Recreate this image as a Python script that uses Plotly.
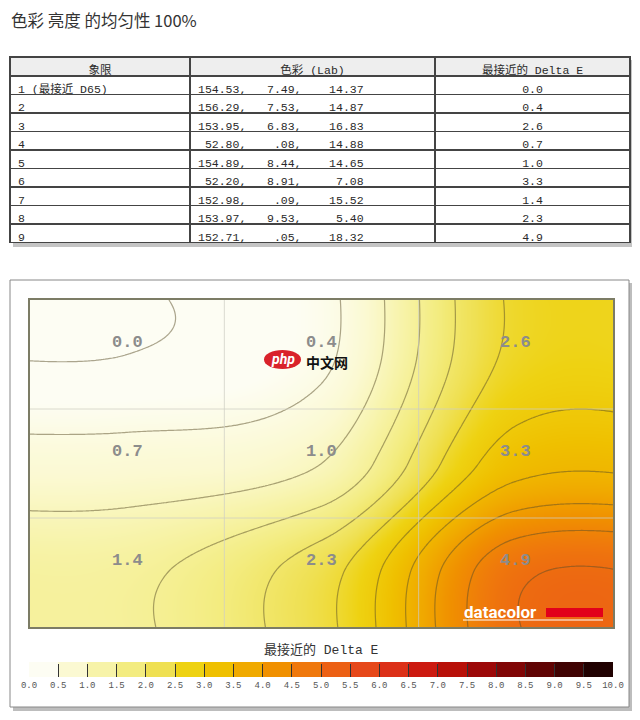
import numpy as np
import plotly.graph_objects as go

# ---------------- data ----------------
title_text = "色彩 亮度 的均匀性 100%"
table_header = ["象限", "色彩 (Lab)", "最接近的 Delta E"]
quadrant_labels = ["1 (最接近 D65)", "2", "3", "4", "5", "6", "7", "8", "9"]
lab_L = ["154.53", "156.29", "153.95", "52.80", "154.89", "52.20", "152.98", "153.97", "152.71"]
lab_a = ["7.49", "7.53", "6.83", ".08", "8.44", "8.91", ".09", "9.53", ".05"]
lab_b = ["14.37", "14.87", "16.83", "14.88", "14.65", "7.08", "15.52", "5.40", "18.32"]
delta_e_list = [0.0, 0.4, 2.6, 0.7, 1.0, 3.3, 1.4, 2.3, 4.9]

# 3x3 uniformity grid (rows top->bottom, columns left->right)
delta_e_grid = [
    [0.0, 0.4, 2.6],
    [0.7, 1.0, 3.3],
    [1.4, 2.3, 4.9],
]
colorbar_title = "最接近的 Delta E"
cbar_ticks = [round(0.5 * k, 1) for k in range(21)]
cbar_ticktext = [f"{t:.1f}" for t in cbar_ticks]
bin_colors = ["#fdfdf3", "#fbf9d2", "#f7f3a8", "#f3ec80", "#efe052", "#eed212", "#efc000",
              "#f0aa00", "#f09000", "#ef780c", "#ec6014", "#e6481a", "#dc3018", "#cc1a10",
              "#b81008", "#9c0808", "#800606", "#600404", "#400303", "#200101"]

# page body has an 8px margin: figure pixel = page pixel - 8
OFF = 8
W, H = 640 - OFF, 720 - OFF
def px_x(p):
    return (p - OFF) / W
def px_y(p):
    return 1 - (p - OFF) / H

# ---------------- smooth surface from the 3x3 grid (cardinal cubic spline) ----------------
Zg = np.array(delta_e_grid, float)
nrows, ncols = Zg.shape
TENSION_K = 0.75

def card_interp(vals, xq, k=TENSION_K):
    vals = np.asarray(vals, float)
    p = np.concatenate([[vals[0]] * 2, vals, [vals[-1]] * 2])
    m = np.zeros_like(p)
    m[1:-1] = k * (p[2:] - p[:-2]) / 2
    i = np.floor(xq).astype(int)
    i = np.clip(i, -1, len(vals) - 1)
    t = xq - i
    i0 = i + 2
    i1 = i0 + 1
    h00 = 2 * t ** 3 - 3 * t ** 2 + 1
    h10 = t ** 3 - 2 * t ** 2 + t
    h01 = -2 * t ** 3 + 3 * t ** 2
    h11 = t ** 3 - t ** 2
    return h00 * p[i0] + h10 * m[i0] + h01 * p[i1] + h11 * m[i1]

gx = np.linspace(-0.5, ncols - 0.5, 241)
gy = np.linspace(-0.5, nrows - 0.5, 161)
Zr = np.array([card_interp(Zg[j], gx) for j in range(nrows)])          # nrows x Nx
Zs = np.array([card_interp(Zr[:, c], gy) for c in range(len(gx))]).T   # Ny x Nx

# colorscales
n = len(bin_colors)
smooth_scale = [[0.0, bin_colors[0]]] + [[(k + 0.5) / n, c] for k, c in enumerate(bin_colors)] + [[1.0, bin_colors[-1]]]
step_scale = []
for k, c in enumerate(bin_colors):
    step_scale.append([k / n, c])
    step_scale.append([(k + 1) / n, c])

fig = go.Figure()

# table
NB = "\u00a0"
col2 = [(a + ",").rjust(7).replace(" ", NB) + (b + ",").rjust(8).replace(" ", NB)
        + c.rjust(9).replace(" ", NB) for a, b, c in zip(lab_L, lab_a, lab_b)]
col3 = [f"{d:.1f}" for d in delta_e_list]
tfont = dict(family="Liberation Mono, Noto Sans CJK SC", size=11.5, color="#2a2a2a")
fig.add_trace(go.Table(
    domain=dict(x=[px_x(10), px_x(630)], y=[px_y(243), px_y(57)]),
    columnwidth=[180, 245, 195],
    header=dict(values=table_header, height=19, fill_color="#eeeeee",
                line=dict(color="#444", width=1.5), align="center", font=tfont),
    cells=dict(values=[quadrant_labels, col2, col3], height=18.5, fill_color="white",
               line=dict(color="#444", width=1.5), align=["left", "left", "center"], font=tfont),
))

# contour surface
fig.add_trace(go.Contour(
    x=gx, y=gy, z=Zs, zmin=0, zmax=10, colorscale=smooth_scale, showscale=False,
    contours=dict(start=0, end=10, size=0.5, coloring="heatmap", showlabels=False),
    line=dict(color="rgba(90,78,40,0.5)", width=1.2, smoothing=1),
    hoverinfo="skip",
))

# colorbar carrier
fig.add_trace(go.Scatter(
    x=[0], y=[0], mode="markers", hoverinfo="skip", showlegend=False,
    marker=dict(size=1, opacity=0, color=[0], cmin=0, cmax=10, colorscale=step_scale,
                showscale=True,
                colorbar=dict(orientation="h", x=px_x(321), xanchor="center",
                              y=px_y(662), yanchor="top", len=584, lenmode="pixels",
                              thickness=15, thicknessmode="pixels", outlinewidth=0,
                              xpad=0, ypad=0, tickmode="array", tickvals=cbar_ticks,
                              ticktext=cbar_ticktext, ticks="inside", ticklen=13,
                              tickcolor="#333", tickwidth=1,
                              tickfont=dict(family="Liberation Mono", size=9, color="#555"))),
))

# value labels
for j in range(nrows):
    for i in range(ncols):
        fig.add_annotation(x=i, y=j, xref="x", yref="y", text=f"{Zg[j, i]:.1f}",
                           showarrow=False, yshift=12,
                           font=dict(family="Liberation Mono", size=17, color="#8c8c8c",
                                     weight="bold"))

shapes = []
# panel shadows & frames
shapes.append(dict(type="rect", xref="paper", yref="paper", x0=px_x(13), x1=px_x(633),
                   y0=px_y(247), y1=px_y(60), fillcolor="#c4c4c4", line=dict(width=0), layer="below"))
shapes.append(dict(type="rect", xref="paper", yref="paper", x0=px_x(13), x1=px_x(633),
                   y0=px_y(711), y1=px_y(283), fillcolor="#bdbdbd", line=dict(width=0), layer="below"))
shapes.append(dict(type="rect", xref="paper", yref="paper", x0=px_x(10), x1=px_x(629),
                   y0=px_y(707), y1=px_y(280), fillcolor="white", line=dict(color="#888", width=1),
                   layer="below"))
# cell grid lines
for i in range(1, ncols):
    shapes.append(dict(type="line", xref="x", yref="y", x0=i - 0.5, x1=i - 0.5, y0=-0.5, y1=nrows - 0.5,
                       line=dict(color="rgba(205,205,195,0.75)", width=1), layer="above"))
for j in range(1, nrows):
    shapes.append(dict(type="line", xref="x", yref="y", x0=-0.5, x1=ncols - 0.5, y0=j - 0.5, y1=j - 0.5,
                       line=dict(color="rgba(205,205,195,0.75)", width=1), layer="above"))
# datacolor logo
shapes.append(dict(type="rect", xref="paper", yref="paper", x0=px_x(546), x1=px_x(603),
                   y0=px_y(617), y1=px_y(608), fillcolor="#e2001a", line=dict(width=0)))
shapes.append(dict(type="line", xref="paper", yref="paper", x0=px_x(463), x1=px_x(603),
                   y0=px_y(620), y1=px_y(620), line=dict(color="white", width=1)))
# php watermark
shapes.append(dict(type="circle", xref="paper", yref="paper", x0=px_x(264), x1=px_x(301),
                   y0=px_y(369), y1=px_y(350), fillcolor="#d9222a", line=dict(width=0)))
fig.update_layout(shapes=shapes)

fig.add_annotation(xref="paper", yref="paper", x=px_x(462), y=px_y(612), xanchor="left",
                   yanchor="middle", showarrow=False, text="<b>datacolor</b>",
                   font=dict(family="Roboto", size=17, color="white"))
fig.add_annotation(xref="paper", yref="paper", x=px_x(282.5), y=px_y(359), xanchor="center",
                   yanchor="middle", showarrow=False, text="<b><i>php</i></b>",
                   font=dict(family="Roboto", size=14, color="white"))
fig.add_annotation(xref="paper", yref="paper", x=px_x(304), y=px_y(362), xanchor="left",
                   yanchor="middle", showarrow=False, text="<b>中文网</b>",
                   font=dict(family="Noto Sans CJK SC", size=14, color="#111"))

# titles
fig.add_annotation(xref="paper", yref="paper", x=px_x(9), y=px_y(20), xanchor="left",
                   yanchor="middle", showarrow=False, text=title_text,
                   font=dict(family="Noto Sans CJK SC", size=16.5, color="#333"))
fig.add_annotation(xref="paper", yref="paper", x=px_x(321), y=px_y(650), xanchor="center",
                   yanchor="middle", showarrow=False, text=colorbar_title,
                   font=dict(family="Liberation Mono, Noto Sans CJK SC", size=13, color="#333"))

fig.update_xaxes(domain=[px_x(30), px_x(613)], range=[-0.5, ncols - 0.5], showgrid=False,
                 zeroline=False, showticklabels=False, ticks="", showline=True, mirror=True,
                 linecolor="rgba(80,80,50,0.75)", linewidth=1.5)
fig.update_yaxes(domain=[px_y(627), px_y(300)], range=[nrows - 0.5, -0.5], showgrid=False,
                 zeroline=False, showticklabels=False, ticks="", showline=True, mirror=True,
                 linecolor="rgba(80,80,50,0.75)", linewidth=1.5)
fig.update_layout(width=W, height=H, margin=dict(l=0, r=0, t=0, b=0),
                  paper_bgcolor="white", plot_bgcolor="rgba(0,0,0,0)", showlegend=False)

fig.write_html("out.html")
